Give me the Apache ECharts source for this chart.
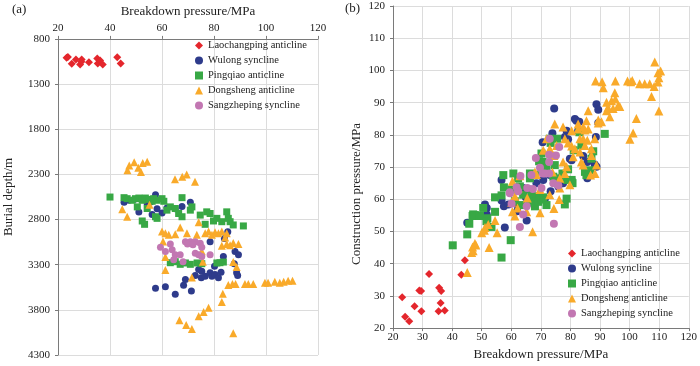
<!DOCTYPE html>
<html>
<head>
<meta charset="utf-8">
<script src="https://cdn.jsdelivr.net/npm/echarts@6/dist/echarts.min.js"></script>
<style>html,body{margin:0;padding:0;background:#fff}#c{width:700px;height:366px}</style>
</head>
<body>
<div id="c"></div>
<script>
// ---------- DATA ----------
const seriesNames = ['Laochangping anticline','Wulong syncline','Pingqiao anticline','Dongsheng anticline','Sangzheping syncline'];
const xTicksA = [20,40,60,80,100,120];
const yTicksA = [800,1300,1800,2300,2800,3300,3800,4300];

// Panel (a): [breakdown pressure MPa, burial depth m]
const aLaochangping = [[23.3,1010],[23.8,1000],[25.3,1076],[26.9,1029],[28.5,1083],[29.1,1029],[29.0,1054],[31.9,1058],[35.1,1018],[35.3,1073],[36.2,1040],[37.2,1083],[42.8,1004],[44.1,1073]];
const aWulong = [[45.4,2609],[47.3,2587],[49.2,2577],[51.1,2718],[54.3,2624],[55.6,2606],[57.5,2526],[58.1,2682],[60.0,2729],[61.9,2671],[65.1,2682],[67.7,2657],[70.9,2609],[56.2,2744],
[85.3,2936],[84.0,3009],[78.5,3045],[88.1,3154],[89.4,3191],[83.6,3209],
[57.5,3561],[61.3,3543],[65.1,3627],[68.3,3528],[69.0,3463],[71.3,3590],[72.8,3419],[74.1,3354],[75.3,3372],[75.1,3445],[76.6,3427],[78.5,3390],[79.2,3427],[80.4,3409],[81.7,3445],[82.7,3383],[80.2,3318],[88.7,3390],[89.1,3419],[87.8,3289]];
const aPingqiao = [[40.0,2551],[45.4,2558],[46.6,2569],[48.5,2587],[49.8,2569],[51.1,2562],[52.4,2587],[53.6,2562],[54.9,2577],[56.2,2598],[56.8,2569],[58.1,2587],[60.0,2569],[60.7,2598],[67.7,2558],
[50.5,2660],[54.3,2678],[57.5,2769],[61.9,2696],[63.2,2660],[65.1,2678],[66.4,2733],[67.7,2769],[70.9,2696],[71.5,2660],[74.7,2751],[76.6,2853],[77.2,2715],[78.5,2733],[79.8,2816],[81.1,2787],[83.0,2824],[84.9,2715],[85.5,2787],[86.2,2824],[87.4,2860],[91.3,2871],[52.4,2816],[53.3,2853],[58.1,2787],
[63.2,3278],[65.1,3267],[67.0,3296],[69.0,3281],[70.9,3296],[73.5,3281],[75.3,3289],[81.1,3281],[82.3,3278],[83.6,3271]];
const aDongsheng = [[46.7,2253],[47.4,2203],[49.3,2166],[50.9,2228],[51.9,2275],[52.6,2173],[54.3,2159],[65.0,2355],[67.8,2326],[69.5,2301],[72.7,2381],
[44.7,2686],[46.6,2769],[55.2,2635],
[60.0,2933],[61.3,2951],[62.6,2969],[65.1,2962],[67.0,2889],[69.6,2951],[73.4,2969],[74.1,2831],[76.6,2951],[77.9,2933],[79.2,2969],[80.4,2940],[81.7,2951],[83.0,2933],[84.9,2951],[84.3,2998],
[83.0,3089],[84.9,3071],[86.2,3085],[87.4,3060],[89.4,3071],[60.4,3042],[61.3,3216],[61.3,3358],[75.3,3151],[75.7,3267],[71.5,3441],[87.4,3271],[88.7,3325],
[85.5,3525],[87.1,3514],[88.3,3514],[91.9,3514],[93.2,3514],[95.1,3514],[99.6,3499],[100.8,3499],[103.4,3488],[105.3,3499],[106.8,3488],[108.5,3478],[110.2,3478],
[83.4,3623],[83.0,3714],[77.9,3776],[76.0,3823],[74.1,3870],[71.5,4012],[69.3,3968],[66.7,3914],[87.4,4059]];
const aSangzheping = [[59.4,3107],[61.3,3154],[63.2,3071],[63.9,3136],[65.1,3191],[67.0,3191],[69.0,3045],[70.9,3045],[72.8,3045],[74.7,3063],[75.3,3107],[72.8,3172],[74.1,3191],[75.3,3209],[78.5,3191],[64.5,3245],[68.1,3267],[69.8,3071],[71.9,3078]];

// Panel (b): [breakdown pressure MPa, construction pressure MPa]
const bLaochangping = [[23.1,29.6],[24.1,23.5],[25.5,22.1],[27.3,26.8],[28.9,31.7],[29.5,31.5],[29.6,25.2],[32.2,36.8],[35.4,25.2],[35.6,32.5],[36.1,27.8],[36.3,31.5],[37.5,25.5],[43.1,36.6],[44.3,41.1]];
const bWulong = [[74.5,88.2],[70.6,77.7],[73.9,80.5],[78.7,81.3],[78.1,79.3],[81.5,84.9],[82.0,84.4],[83.0,84.1],[88.8,89.5],[89.4,87.8],[88.6,79.3],[89.4,83.7],[83.2,80.8],[79.8,72.6],[80.4,72.1],[84.3,73.4],[85.7,71.6],[88.8,70.1],[88.2,70.8],[66.8,67.5],[56.7,66.0],[80.4,66.0],[70.8,66.0],[73.0,67.5],[85.7,66.5],[79.2,78.6],[82.6,81.3],
[45.1,52.7],[51.1,58.4],[51.7,57.3],[51.7,55.3],[56.7,59.6],[57.5,57.8],[57.8,51.2],[59.0,58.4],[62.0,56.3],[62.3,57.8],[65.2,53.4],[64.9,60.6],[71.4,60.2],[73.3,62.5],[75.9,64.0],[77.5,65.0],[68.5,65.0],[64.0,63.5],[66.3,63.0]];
const bPingqiao = [[40.2,45.7],[45.1,49.1],[45.8,52.4],[47.1,55.3],[46.9,54.8],[47.7,55.1],[49.4,54.8],[50.5,57.3],[51.9,54.1],[51.6,53.2],[53.3,51.4],[54.5,60.6],[54.5,56.1],[56.7,41.9],[56.7,61.2],[57.5,63.7],[59.8,47.3],[60.1,63.0],[61.2,59.4],[63.5,58.2],[66.3,59.9],[67.2,58.9],[68.0,57.8],[69.1,59.2],[70.2,59.9],[71.9,58.2],[78.7,60.2],[78.1,58.4],[80.7,65.0],[64.0,61.4],[68.5,60.9],[70.8,60.6],[66.8,61.9],[62.9,64.0],
[91.6,80.3],[83.0,80.8],[73.0,78.8],[75.5,78.8],[73.3,77.5],[70.2,74.2],[69.4,71.8],[70.6,71.6],[74.7,70.6],[81.1,75.2],[83.7,76.7],[87.7,74.9],[87.1,72.6],[84.9,68.5],[86.6,69.0],[85.4,67.5],[79.2,69.3],[77.3,68.0],[71.9,69.5],[66.3,68.0],[68.0,67.5],[74.2,67.0],[71.4,68.5],[66.3,66.5],[60.7,68.0],[57.3,67.5],[62.3,66.5],[80.4,66.0],[78.9,66.0],[76.4,66.5]];
const bDongsheng = [[108.5,102.6],[109.6,99.3],[110.5,99.8],[109.9,97.7],[109.6,96.4],[108.3,95.0],[107.4,91.9],[109.9,87.4],[105.1,95.9],[106.8,95.9],[103.4,95.9],[100.4,96.5],[99.3,96.7],[100.9,96.9],[95.2,96.7],[90.7,96.5],[88.5,96.7],[91.1,94.6],[95.0,93.1],[93.9,90.6],[95.2,91.1],[92.2,90.1],[92.7,88.5],[94.4,88.2],[96.1,89.0],[96.7,88.8],[92.2,87.5],[86.0,87.5],[93.3,85.6],[85.4,84.4],[89.4,84.6],[90.5,84.1],[89.4,83.7],[102.3,85.1],[101.2,80.6],[100.1,78.6],[77.5,82.4],[82.6,81.8],[84.9,81.5],[86.0,81.8],[88.2,78.8],[84.3,78.8],[84.9,76.7],[87.1,75.7],[81.5,75.7],[80.4,76.5],[79.2,77.5],[78.1,78.8],
[45.1,37.3],[47.7,46.3],[46.9,45.2],[47.1,44.0],[46.6,43.5],[48.0,45.8],[50.0,49.6],[50.9,50.4],[51.1,51.2],[52.2,52.2],[52.5,45.0],[54.5,53.4],[55.2,49.6],[60.4,56.1],[61.2,54.8],[61.2,60.9],[62.1,57.3],[62.3,63.5],[65.2,56.1],[65.4,60.4],[67.2,49.9],[69.7,55.8],[69.7,63.0],[73.0,61.4],[74.4,57.1],[76.2,59.9],[76.4,63.5],[79.8,64.5],
[60.4,65.6],[68.5,67.7],[60.1,59.1],
[70.8,75.2],[73.0,75.7],[71.9,78.8],[74.7,83.4],[80.4,81.3],[82.6,83.4],[84.3,82.4],[83.2,78.8],[77.5,71.6],[80.9,73.2],[83.2,74.7],[84.3,70.6],[85.7,78.3],[88.3,68.0],[88.8,70.6],[87.1,73.6],[75.3,76.7],[73.9,68.5],[74.4,73.6],[78.7,70.1],[78.1,68.0],[76.4,66.5],[83.7,71.6],[86.8,67.5],[62.9,67.3],[68.0,68.5]];
const bSangzheping = [[73.0,78.8],[76.2,76.2],[68.3,72.8],[72.8,73.8],[75.1,73.6],[72.8,71.6],[70.6,68.0],[63.1,67.2],[72.8,68.0],[69.7,69.8],[59.5,61.9],[61.8,63.7],[60.1,58.6],[62.3,62.5],[64.0,55.3],[65.2,57.8],[62.9,51.4],[74.4,52.4],[70.2,63.5],[74.2,65.0],[75.9,64.3],[65.4,63.5],[59.5,62.2],[66.8,67.5],[71.4,68.0],[67.3,63.2]];

// ---------- STYLE ----------
const FONT = "'Liberation Serif','Times New Roman',serif";
const colors = ['#e4262c','#2e3b8b','#38a845','#f9aa2a','#c277b2'];
const symbols = ['diamond','circle','rect','triangle','circle'];
const aData = [aLaochangping,aWulong,aPingqiao,aDongsheng,aSangzheping];
const bData = [bLaochangping,bWulong,bPingqiao,bDongsheng,bSangzheping];
const sizesA = [8,7,7,8,7];
const sizesB = [8,8,8,9,8];

const series = [];
seriesNames.forEach((n,i)=>{
  series.push({name:n,type:'scatter',xAxisIndex:0,yAxisIndex:0,data:aData[i],symbol:symbols[i],symbolSize:sizesA[i],itemStyle:{color:colors[i],opacity:1},z:2+i});
});
seriesNames.forEach((n,i)=>{
  series.push({name:n,type:'scatter',xAxisIndex:1,yAxisIndex:1,data:bData[i],symbol:symbols[i],symbolSize:sizesB[i],itemStyle:{color:colors[i],opacity:1},z:2+i});
});

const axisLine = {show:true,lineStyle:{color:'#7a7a7a',width:1}};
const splitLine = {show:true,lineStyle:{color:'#dcdcdc',width:1}};
const plain = v => String(v);
const labelStyle = {color:'#222',fontSize:11,fontFamily:FONT,formatter:plain};
const nameStyle = {color:'#222',fontSize:13,fontFamily:FONT};
const legendCommon = {orient:'vertical',padding:0,itemWidth:8,itemHeight:8,itemGap:4,textStyle:{color:'#222',fontSize:10.5,fontFamily:FONT},
  data:seriesNames.map((n,i)=>({name:n,icon:symbols[i],itemStyle:{color:colors[i]}}))};

const option = {
  animation:false,
  backgroundColor:'#fff',
  grid:[{left:58,top:34,width:260,height:321},{left:393,top:6,width:296,height:325}],
  xAxis:[
    {gridIndex:0,type:'value',position:'top',min:20,max:120,interval:20,axisLine,splitLine,
     axisTick:{show:true,length:3,lineStyle:{color:'#7a7a7a'}},axisLabel:{...labelStyle,margin:5},
     name:'Breakdown pressure/MPa',nameLocation:'middle',nameGap:18,nameTextStyle:nameStyle},
    {gridIndex:1,type:'value',min:20,max:120,interval:10,axisLine,splitLine,
     axisTick:{show:true,length:3,lineStyle:{color:'#7a7a7a'}},axisLabel:{...labelStyle,margin:4},
     name:'Breakdown pressure/MPa',nameLocation:'middle',nameGap:19,nameTextStyle:nameStyle}
  ],
  yAxis:[
    {gridIndex:0,type:'value',inverse:true,min:800,max:4300,interval:500,axisLine,splitLine,
     axisTick:{show:true,length:3,lineStyle:{color:'#7a7a7a'}},axisLabel:{...labelStyle,margin:8},
     name:'Burial depth/m',nameLocation:'middle',nameGap:43,nameTextStyle:nameStyle},
    {gridIndex:1,type:'value',min:20,max:120,interval:10,axisLine,splitLine,
     axisTick:{show:true,length:3,lineStyle:{color:'#7a7a7a'}},axisLabel:{...labelStyle,margin:8}}
  ],
  legend:[
    {...legendCommon,left:195,top:40},
    {...legendCommon,left:568,top:248}
  ],
  graphic:[
    {type:'text',left:12,top:3,style:{text:'(a)',fill:'#222',font:'13px '+FONT}},
    {type:'text',left:345,top:2,style:{text:'(b)',fill:'#222',font:'13px '+FONT}},
    {type:'text',x:357,y:194,rotation:Math.PI/2,style:{text:'Construction pressure/MPa',fill:'#222',font:'13px '+FONT,align:'center',verticalAlign:'middle',textAlign:'center',textVerticalAlign:'middle'}}
  ],
  series
};
const chart = echarts.init(document.getElementById('c'),null,{renderer:'canvas'});
chart.setOption(option);
</script>
</body>
</html>
